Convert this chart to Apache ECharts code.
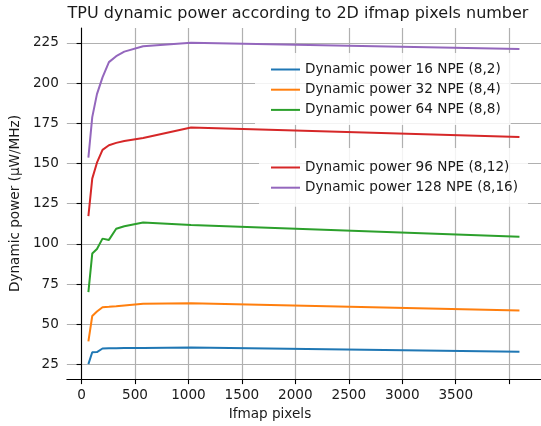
<!DOCTYPE html>
<html>
<head>
<meta charset="utf-8">
<script src="https://cdn.jsdelivr.net/npm/echarts@6/dist/echarts.min.js"></script>
<style>
html,body{margin:0;padding:0;background:#fff;}
#chart{width:541px;height:426px;}
</style>
</head>
<body>
<div id="chart"></div>
<script>
// Data
const pixels = [64, 100, 144, 196, 256, 324, 400, 576, 1024, 4096];
const npe16  = [25.3, 32.7, 32.8, 35.0, 35.1, 35.2, 35.3, 35.4, 35.7, 33.0];
const npe32  = [39.4, 55.2, 58.0, 60.7, 60.9, 61.3, 61.8, 62.9, 63.2, 58.7];
const npe64  = [70.0, 94.0, 96.8, 103.3, 102.5, 109.4, 111.0, 113.3, 111.7, 104.5];
const npe96  = [117.3, 140.6, 150.5, 158.5, 161.3, 162.8, 164.0, 165.9, 172.3, 166.4];
const npe128 = [153.6, 178.8, 193.1, 203.5, 213.0, 216.7, 219.5, 222.9, 225.0, 221.2];
const seriesNames = [
  'Dynamic power 16 NPE (8,2)',
  'Dynamic power 32 NPE (8,4)',
  'Dynamic power 64 NPE (8,8)',
  'Dynamic power 96 NPE (8,12)',
  'Dynamic power 128 NPE (8,16)'
];
const xTickValues = [0, 500, 1000, 1500, 2000, 2500, 3000, 3500, 4000];
const xLabelValues = [0, 500, 1000, 1500, 2000, 2500, 3000, 3500];
const yTickValues = [25, 50, 75, 100, 125, 150, 175, 200, 225];
const titleText = 'TPU dynamic power according to 2D ifmap pixels number';
const xName = 'Ifmap pixels';
const yName = 'Dynamic power (\u03bcW/MHz)';

const colors = ['#1f77b4', '#ff7f0e', '#2ca02c', '#d62728', '#9467bd'];
const allValues = [npe16, npe32, npe64, npe96, npe128];
const FONT = 'DejaVu Sans';
const FS = 13.6;
const TXT = '#1a1a1a';

const chart = echarts.init(document.getElementById('chart'), null, {renderer: 'canvas'});

const series = allValues.map((vals, i) => ({
  name: seriesNames[i],
  type: 'line',
  data: pixels.map((p, j) => [p, vals[j]]),
  showSymbol: false,
  symbol: 'none',
  lineStyle: {color: colors[i], width: 2},
  itemStyle: {color: colors[i]},
  z: 3
}));

const legendCommon = {
  orient: 'vertical',
  itemWidth: 29,
  itemHeight: 2,
  itemGap: 6.2,
  icon: 'rect',
  backgroundColor: 'rgba(255,255,255,0.85)',
  borderWidth: 0,
  textStyle: {fontFamily: FONT, fontSize: FS, color: TXT},
  selectedMode: false
};

const option = {
  animation: false,
  color: colors,
  title: {
    text: titleText,
    left: 298,
    top: 6,
    padding: 0,
    textAlign: 'center',
    textStyle: {fontFamily: FONT, fontSize: 16, fontWeight: 'normal', color: TXT}
  },
  legend: [
    Object.assign({}, legendCommon, {
      data: seriesNames.slice(0, 3),
      left: 255, top: 53,
      padding: [9.5, 10, 8, 16]
    }),
    Object.assign({}, legendCommon, {
      data: seriesNames.slice(3),
      left: 259, top: 148,
      padding: [12.5, 10, 12, 12]
    })
  ],
  grid: {left: 62.7, right: -3.4, top: 28, bottom: 41, containLabel: false},
  xAxis: {
    type: 'value',
    min: -137.6,
    max: 4297.6,
    name: xName,
    nameLocation: 'middle',
    nameGap: 25,
    nameTextStyle: {fontFamily: FONT, fontSize: FS, color: TXT, padding: [0, 68, 0, 0]},
    axisLine: {show: true, lineStyle: {color: '#000', width: 1.1}},
    axisTick: {show: true, inside: false, length: 5, lineStyle: {color: '#000', width: 1.1}, customValues: xTickValues},
    axisLabel: {fontFamily: FONT, fontSize: FS, color: TXT, margin: 9, customValues: xLabelValues,
      formatter: function (v) { return String(v); }},
    splitLine: {show: true, lineStyle: {color: '#b0b0b0', width: 1.2}}
  },
  yAxis: {
    type: 'value',
    min: 16,
    max: 234.2,
    name: yName,
    nameLocation: 'middle',
    nameGap: 40,
    nameRotate: 90,
    nameTextStyle: {fontFamily: FONT, fontSize: FS, color: TXT},
    axisLine: {show: true, lineStyle: {color: '#000', width: 1.1}},
    axisTick: {show: true, inside: false, length: 5, lineStyle: {color: '#000', width: 1.1}, customValues: yTickValues},
    axisLabel: {fontFamily: FONT, fontSize: FS, color: TXT, margin: 8, customValues: yTickValues,
      formatter: function (v) { return String(v); }},
    splitLine: {show: true, lineStyle: {color: '#b0b0b0', width: 1.2}}
  },
  series: series
};
chart.setOption(option);
</script>
</body>
</html>
